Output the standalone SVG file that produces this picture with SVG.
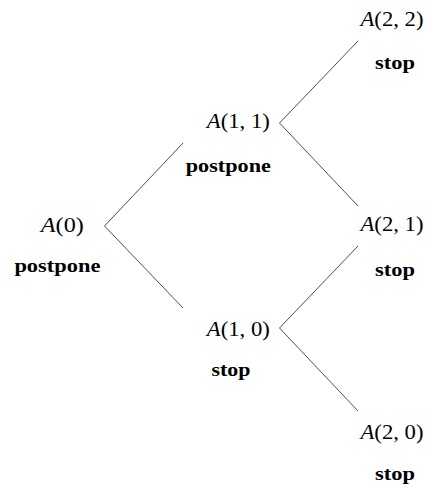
<svg xmlns="http://www.w3.org/2000/svg" width="426" height="487" viewBox="0 0 426 487">
  <style>
    text { font-family: 'Liberation Serif', 'DejaVu Serif', 'Times New Roman', serif; fill: #000; text-anchor: middle; }
    .state { font-size: 22px; }
    .v { font-style: italic; }
    .act { font-size: 19px; font-weight: bold; }
    .edge { fill: none; stroke: #3a3a3a; stroke-width: 0.9; }
  </style>
  <rect width="426" height="487" fill="#fff"/>

  <!-- branches of the decision tree -->
  <g id="connectors">
    <polyline class="edge" points="183,143 104.5,226 183,308"/>
    <polyline class="edge" points="358,41 279.5,123 358,206"/>
    <polyline class="edge" points="358,246 279.5,328 358,411"/>
  </g>

  <g id="node-A0">
    <text class="state" font-family="Liberation Serif, DejaVu Serif, serif" x="62.3" y="231.5" textLength="43" lengthAdjust="spacingAndGlyphs"><tspan class="v">A</tspan>(0)</text>
    <text class="act" font-family="Liberation Serif, DejaVu Serif, serif" x="57.4" y="272" textLength="86" lengthAdjust="spacingAndGlyphs">postpone</text>
  </g>

  <g id="node-A11">
    <text class="state" font-family="Liberation Serif, DejaVu Serif, serif" x="238.3" y="127.5" textLength="63" lengthAdjust="spacingAndGlyphs"><tspan class="v">A</tspan>(1, 1)</text>
    <text class="act" font-family="Liberation Serif, DejaVu Serif, serif" x="228.3" y="172" textLength="85" lengthAdjust="spacingAndGlyphs">postpone</text>
  </g>

  <g id="node-A10">
    <text class="state" font-family="Liberation Serif, DejaVu Serif, serif" x="238.3" y="336" textLength="63" lengthAdjust="spacingAndGlyphs"><tspan class="v">A</tspan>(1, 0)</text>
    <text class="act" font-family="Liberation Serif, DejaVu Serif, serif" x="231" y="376" textLength="39" lengthAdjust="spacingAndGlyphs">stop</text>
  </g>

  <g id="node-A22">
    <text class="state" font-family="Liberation Serif, DejaVu Serif, serif" x="392" y="26" textLength="63" lengthAdjust="spacingAndGlyphs"><tspan class="v">A</tspan>(2, 2)</text>
    <text class="act" font-family="Liberation Serif, DejaVu Serif, serif" x="395" y="69" textLength="40" lengthAdjust="spacingAndGlyphs">stop</text>
  </g>

  <g id="node-A21">
    <text class="state" font-family="Liberation Serif, DejaVu Serif, serif" x="392" y="231" textLength="63" lengthAdjust="spacingAndGlyphs"><tspan class="v">A</tspan>(2, 1)</text>
    <text class="act" font-family="Liberation Serif, DejaVu Serif, serif" x="395" y="276" textLength="40" lengthAdjust="spacingAndGlyphs">stop</text>
  </g>

  <g id="node-A20">
    <text class="state" font-family="Liberation Serif, DejaVu Serif, serif" x="392" y="439" textLength="63" lengthAdjust="spacingAndGlyphs"><tspan class="v">A</tspan>(2, 0)</text>
    <text class="act" font-family="Liberation Serif, DejaVu Serif, serif" x="395" y="480" textLength="40" lengthAdjust="spacingAndGlyphs">stop</text>
  </g>
</svg>
